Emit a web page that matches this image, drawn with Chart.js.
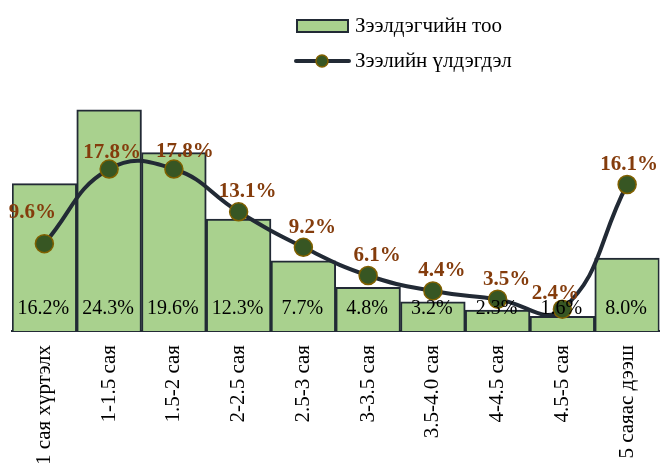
<!DOCTYPE html>
<html lang="mn">
<head>
<meta charset="UTF-8">
<title>Зээлдэгчид</title>
<style>
  html, body { margin: 0; background: #fff; overflow: hidden; }
  #wrap { width: 670px; height: 463px; }
</style>
</head>
<body>
<div id="wrap"><canvas id="myChart"></canvas></div>
<script src="https://cdn.jsdelivr.net/npm/chart.js"></script>
<script>
// categories (loan size)
const categories = ['1 сая хүртэлх', '1-1.5 сая', '1.5-2 сая', '2-2.5 сая', '2.5-3 сая',
  '3-3.5 сая', '3.5-4.0 сая', '4-4.5 сая', '4.5-5 сая', '5 саяас дээш'];
// share of borrowers, %
const borrowers = [16.2, 24.3, 19.6, 12.3, 7.7, 4.8, 3.2, 2.3, 1.6, 8.0];
// share of loan balance, %
const balance = [9.6, 17.8, 17.8, 13.1, 9.2, 6.1, 4.4, 3.5, 2.4, 16.1];

const serif = '"Liberation Serif", "Times New Roman", serif';

// value labels + legend, drawn on top
const labelPlugin = {
  id: 'labels',
  afterDatasetsDraw(chart) {
    const ctx = chart.ctx;
    ctx.save();
    ctx.textAlign = 'center';
    ctx.textBaseline = 'middle';

    // bar labels near the bottom of each bar (bar = dataset 1)
    ctx.font = '20px ' + serif;
    ctx.fillStyle = '#000';
    chart.getDatasetMeta(1).data.forEach((bar, i) => {
      ctx.fillText(borrowers[i].toFixed(1) + '%', bar.x - 1, bar.base - 22);
    });

    // line labels above the points (line = dataset 0)
    ctx.font = 'bold 21px ' + serif;
    ctx.fillStyle = '#843c0c';
    chart.getDatasetMeta(0).data.forEach((pt, i) => {
      let dx = 9, dy = -20;
      if (i == 0) { dx = -12; dy = -31; }
      if (i == 1) { dx = 3; dy = -16; }
      if (i == 2) { dx = 11; dy = -17; }
      if (i == 8) { dx = -7; dy = -16; }
      if (i == 9) { dx = 2; }
      ctx.fillText(balance[i].toFixed(1) + '%', pt.x + dx, pt.y + dy);
    });

    // legend
    ctx.textAlign = 'left';
    ctx.font = '21px ' + serif;
    ctx.fillStyle = '#a9d18e';
    ctx.strokeStyle = '#222a35';
    ctx.lineWidth = 2;
    ctx.fillRect(297, 20, 51, 12);
    ctx.strokeRect(297, 20, 51, 12);
    ctx.fillStyle = '#000';
    ctx.fillText('Зээлдэгчийн тоо', 355, 26);

    ctx.beginPath();
    ctx.moveTo(296, 61);
    ctx.lineTo(349, 61);
    ctx.lineWidth = 4;
    ctx.lineCap = 'round';
    ctx.stroke();
    ctx.beginPath();
    ctx.arc(322, 61, 6, 0, Math.PI * 2);
    ctx.fillStyle = '#375623';
    ctx.fill();
    ctx.lineWidth = 1.5;
    ctx.strokeStyle = '#806000';
    ctx.stroke();
    ctx.fillStyle = '#000';
    ctx.fillText('Зээлийн үлдэгдэл', 355, 61);
    ctx.restore();
  }
};

new Chart(document.querySelector('#myChart'), {
  data: {
    labels: categories,
    datasets: [{
      type: 'line',
      label: 'Зээлийн үлдэгдэл',
      data: balance,
      borderColor: '#222a35',
      borderWidth: 4,
      tension: 0.45,
      pointRadius: 9,
      pointHoverRadius: 9,
      pointBackgroundColor: '#375623',
      pointBorderColor: '#806000',
      pointBorderWidth: 1.5,
      order: 0
    }, {
      type: 'bar',
      label: 'Зээлдэгчийн тоо',
      data: borrowers,
      backgroundColor: '#a9d18e',
      borderColor: '#222a35',
      borderWidth: 2,
      barPercentage: 1,
      categoryPercentage: 1,
      order: 1
    }]
  },
  options: {
    responsive: true,
    maintainAspectRatio: false,
    animation: false,
    layout: { padding: { left: 12, right: 0, top: 58, bottom: 0 } },
    plugins: {
      legend: { display: false },
      tooltip: { enabled: false }
    },
    scales: {
      x: {
        grid: { display: false },
        border: { display: true, color: '#222a35', width: 2 },
        ticks: {
          color: '#000',
          font: { family: serif, size: 21 },
          minRotation: 90,
          maxRotation: 90,
          autoSkip: false,
          padding: 6
        },
        afterFit(scale) {
          scale.height = 132;
        }
      },
      y: {
        display: false,
        min: 0,
        max: 30
      }
    }
  },
  plugins: [labelPlugin]
});
</script>
</body>
</html>
